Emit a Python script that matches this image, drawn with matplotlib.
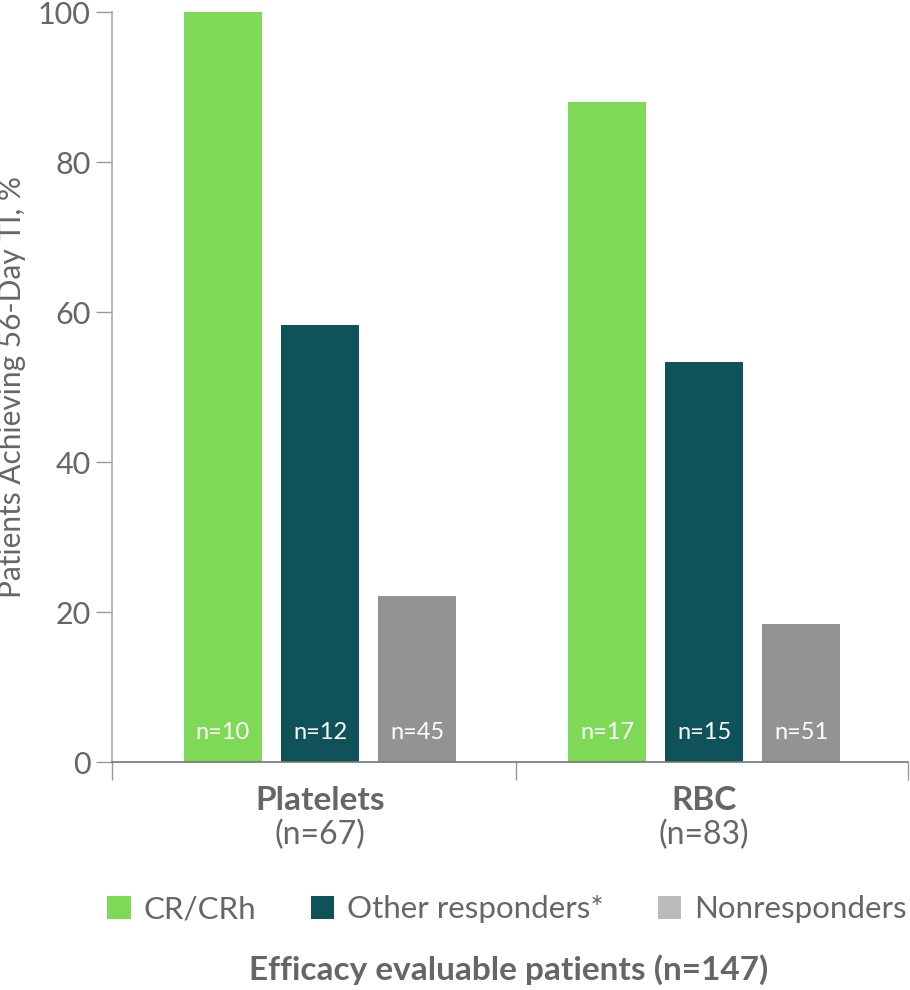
import matplotlib
matplotlib.use("Agg")
import matplotlib.pyplot as plt
from matplotlib.patches import Patch
from matplotlib.transforms import blended_transform_factory
import numpy as np

plt.rcParams['font.family'] = ['Lato', 'DejaVu Sans']

categories = ["Platelets", "RBC"]
category_n = ["(n=67)", "(n=83)"]
series = ["CR/CRh", "Other responders*", "Nonresponders"]
values = {
    "CR/CRh": [100.0, 88.0],
    "Other responders*": [58.3, 53.3],
    "Nonresponders": [22.2, 18.4],
}
bar_n = {
    "CR/CRh": ["n=10", "n=17"],
    "Other responders*": ["n=12", "n=15"],
    "Nonresponders": ["n=45", "n=51"],
}
colors = ["#7ED957", "#10525A", "#939393"]
legend_colors = ["#7ED957", "#10525A", "#BBBBBB"]
yticks = [0, 20, 40, 60, 80, 100]
ylabel = "Patients Achieving 56-Day TI, %"
footer = "Efficacy evaluable patients (n=147)"

TXT = "#666666"

fig = plt.figure(figsize=(9.1, 9.9), dpi=100)
ax = fig.add_axes([112/910, 1-762/990, (908-112)/910, 750/990])

x = np.arange(len(categories))
width = 0.203
offset = 0.253
for i, (s, c) in enumerate(zip(series, colors)):
    pos = x + (i - 1) * offset
    ax.bar(pos, values[s], width=width, color=c, zorder=2)
    for p, lab in zip(pos, bar_n[s]):
        ax.text(p, 3.9, lab, ha='center', va='center', color='white', fontsize=17, zorder=3)

ax.set_xlim(-0.542, 1.531)
ax.set_ylim(0, 100)
ax.set_yticks(yticks)
ax.set_yticklabels([str(t) for t in yticks])
ax.tick_params(axis='y', length=11.5, width=1, color='#999999', labelsize=22, labelcolor=TXT, pad=4)
ax.set_xticks([-0.542, 0.51, 1.531])
ax.set_xticklabels([])
ax.tick_params(axis='x', length=13, width=1, color='#999999', direction='out')

for sp in ['top', 'right']:
    ax.spines[sp].set_visible(False)
ax.spines['left'].set_color('#AAAAAA')
ax.spines['bottom'].set_color('#777777')
ax.spines['left'].set_linewidth(1.2)
ax.spines['bottom'].set_linewidth(1.2)

ax.set_ylabel(ylabel, fontsize=21.5, color=TXT, labelpad=8)

trans = blended_transform_factory(ax.transData, fig.transFigure)
for xi, cat, cn in zip(x, categories, category_n):
    ax.text(xi, 1-800/990, cat, transform=trans, ha='center', va='center',
            fontsize=24, fontweight='bold', color=TXT)
    ax.text(xi, 1-835/990, cn, transform=trans, ha='center', va='center',
            fontsize=23, color=TXT)

handles = [Patch(facecolor=c, edgecolor='none') for c in legend_colors]
fig.legend(handles, series, loc='center', bbox_to_anchor=(507/910, 1-909/990), ncol=3,
           frameon=False, fontsize=22.5, labelcolor=TXT, handlelength=0.75, handleheight=0.75,
           handletextpad=0.4, columnspacing=1.75)

fig.text(509/910, 1-970/990, footer, ha='center', va='center', fontsize=24,
         fontweight='bold', color=TXT)

fig.savefig("out.png", dpi=100)
